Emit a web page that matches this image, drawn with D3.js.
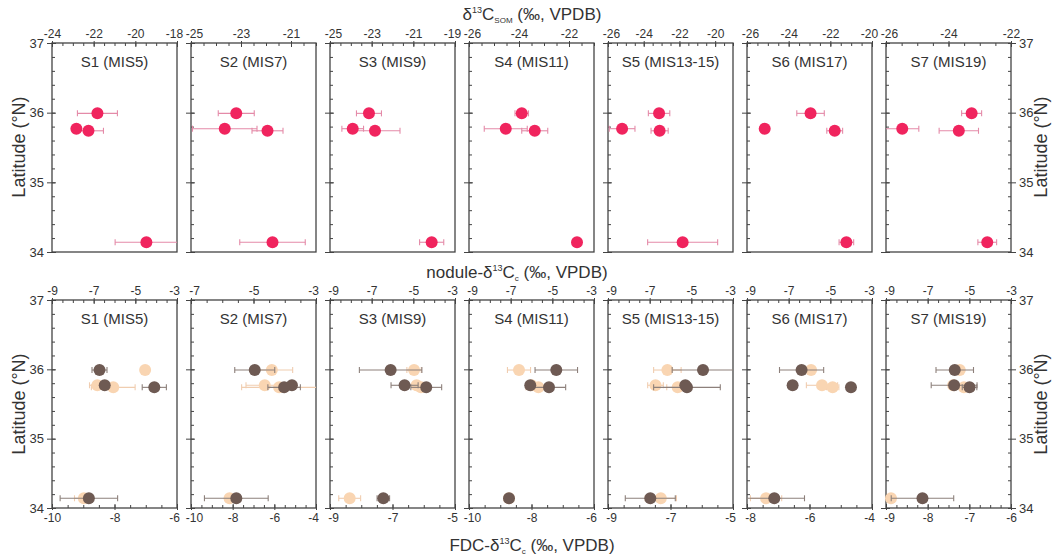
<!DOCTYPE html>
<html>
<head>
<meta charset="utf-8">
<script src="https://cdn.jsdelivr.net/npm/d3@7"></script>
<style>
  html, body { margin: 0; padding: 0; background: #ffffff; }
  svg { display: block; }
  text { font-family: "Liberation Sans", Arial, sans-serif; fill: #333; }
</style>
</head>
<body>
<svg id="chart" width="1056" height="559"></svg>
<script>
// ---------- DATA ----------
const panelTitles = ["S1 (MIS5)", "S2 (MIS7)", "S3 (MIS9)", "S4 (MIS11)", "S5 (MIS13-15)", "S6 (MIS17)", "S7 (MIS19)"];
const siteLatitudes = [35.99, 35.77, 35.74, 34.14];
const latTicks = [34, 35, 36, 37];

// Top row: d13C SOM
const somDomains = [[-24, -18], [-25, -20], [-25, -19], [-26, -21], [-26, -19], [-26, -20], [-26, -22]];
const somTicks = [[-24, -22, -20, -18], [-25, -23, -21], [-25, -23, -21, -19], [-26, -24, -22], [-26, -24, -22, -20], [-26, -24, -22, -20], [-26, -24, -22]];
const somValues = [
  [-21.82, -22.83, -22.25, -19.47],
  [-23.19, -23.65, -21.94, -21.74],
  [-23.13, -23.91, -22.84, -20.12],
  [-23.89, -24.53, -23.37, -21.68],
  [-23.14, -25.21, -23.11, -21.82],
  [-22.95, -25.15, -21.79, -21.23],
  [-23.26, -25.48, -23.67, -22.76]
];
const somErrors = [
  [0.96, 0, 0.72, 1.5],
  [0.72, 1.29, 0.62, 1.31],
  [0.6, 0.52, 1.2, 0.58],
  [0.27, 0.86, 0.52, 0],
  [0.6, 0.72, 0.48, 1.96],
  [0.66, 0, 0.38, 0.35],
  [0.32, 0.53, 0.63, 0.3]
];

// Bottom row: nodule d13Cc (top axis, dark) and FDC d13Cc (bottom axis, light)
const noduleDomains = [[-9, -3], [-7, -3], [-9, -3], [-9, -3], [-9, -3], [-9, -3], [-9, -3]];
const noduleTicks = [[-9, -7, -5, -3], [-7, -5, -3], [-9, -7, -5, -3], [-9, -7, -5, -3], [-9, -7, -5, -3], [-9, -7, -5, -3], [-9, -7, -5, -3]];
const noduleValues = [
  [-6.72, -6.47, -4.09, -7.23],
  [-4.96, -3.77, -4.02, -5.55],
  [-6.09, -5.42, -4.38, -6.44],
  [-4.81, -6.06, -5.16, -7.08],
  [-4.44, -5.29, -5.21, -6.97],
  [-6.38, -6.81, -4.01, -7.69],
  [-5.70, -5.73, -4.99, -7.25]
];
const noduleErrors = [
  [0.36, 0, 0.58, 1.38],
  [0.64, 0, 0.52, 1.02],
  [1.5, 0.65, 0.74, 0.3],
  [1.02, 0, 0.8, 0],
  [1.48, 0, 1.6, 1.2],
  [1.06, 0, 0, 1.45],
  [0.9, 1.1, 0.35, 1.5]
];
const fdcDomains = [[-10, -6], [-10, -4], [-9, -5], [-10, -6], [-9, -5], [-8, -4], [-9, -6]];
const fdcTicks = [[-10, -8, -6], [-10, -8, -6, -4], [-9, -7, -5], [-10, -8, -6], [-9, -7, -5], [-8, -6, -4], [-9, -8, -7, -6]];
const fdcValues = [
  [-7.02, -8.55, -8.04, -8.98],
  [-6.12, -6.46, -5.77, -8.15],
  [-6.31, -6.23, -6.09, -8.37],
  [-8.40, -8.00, -7.78, -8.72],
  [-7.10, -7.48, -6.77, -7.31],
  [-5.95, -5.60, -5.26, -7.39],
  [-7.23, -7.39, -7.13, -8.88]
];
const fdcErrors = [
  [0, 0.25, 0.7, 0.3],
  [1.0, 0.9, 1.8, 0],
  [0.23, 0, 0.2, 0.35],
  [0.37, 0, 0.4, 0],
  [0.44, 0.25, 0.35, 0.5],
  [0, 0.5, 0.2, 0.5],
  [0, 0, 0.25, 0.1]
];

// ---------- LAYOUT ----------
const svg = d3.select("#chart");
const panelW = 125;
const panelLeft = d3.scaleLinear().domain([0, 6]).range([52, 886]);
const rows = [{ top: 43, bottom: 252 }, { top: 300, bottom: 508 }];
const frameColor = "#444";
const pink = "#f0245e", pinkErr = "#e48aa8";
const dark = "#6e5a53", darkErr = "#8d807b";
const light = "#f9d5b2", lightErr = "#f0cdb0";
const R = 6;

function range(a, b, step) {
  const out = [];
  for (let v = a; v <= b + 1e-9; v += step) out.push(+v.toFixed(4));
  return out;
}
function fmt(d) { return String(d); }
function styleAxis(g, fontSize) {
  g.select(".domain").remove();
  g.selectAll(".tick line").attr("stroke", frameColor).attr("stroke-width", 1);
  g.selectAll(".tick text").attr("fill", "#333").style("font-size", fontSize + "px")
    .style("font-family", '"Liberation Sans", Arial, sans-serif');
}
// labels sitting on a shared panel boundary are nudged so neighbours just touch
function nudgeEdges(g, dom, i) {
  g.selectAll(".tick text").each(function (d) {
    if (i < 6 && d === dom[1]) d3.select(this).attr("dx", -3);
    if (i > 0 && d === dom[0]) d3.select(this).attr("dx", 3);
  });
}

function drawPanel(i, row) {
  const x0 = panelLeft(i), x1 = x0 + panelW;
  const { top, bottom } = rows[row];
  const y = d3.scaleLinear().domain([34, 37]).range([bottom, top]);
  const g = svg.append("g");

  // left y-axis: minor inward + major crossing
  g.append("g").attr("transform", `translate(${x0},0)`)
    .call(d3.axisLeft(y).tickValues(range(34, 37, 0.2)).tickSize(-3).tickFormat(""))
    .call(a => styleAxis(a, 13));
  g.append("g").attr("transform", `translate(${x0},0)`)
    .call(d3.axisLeft(y).tickValues(latTicks).tickSizeInner(-4).tickSizeOuter(0).tickFormat(""))
    .call(a => styleAxis(a, 13));
  g.append("g").attr("transform", `translate(${x0},0)`)
    .call(d3.axisLeft(y).tickValues(latTicks).tickSize(5).tickPadding(3).tickFormat(i === 0 ? fmt : ""))
    .call(a => styleAxis(a, 13));
  if (i === 6) {
    g.append("g").attr("transform", `translate(${x1},0)`)
      .call(d3.axisRight(y).tickValues(range(34, 37, 0.2)).tickSize(-3).tickFormat(""))
      .call(a => styleAxis(a, 13));
    g.append("g").attr("transform", `translate(${x1},0)`)
      .call(d3.axisRight(y).tickValues(latTicks).tickSize(5).tickPadding(3).tickFormat(fmt))
      .call(a => styleAxis(a, 13));
  }

  // top x-axis
  const topDom = row === 0 ? somDomains[i] : noduleDomains[i];
  const topTk = row === 0 ? somTicks[i] : noduleTicks[i];
  const xt = d3.scaleLinear().domain(topDom).range([x0, x1]);
  g.append("g").attr("transform", `translate(0,${top})`)
    .call(d3.axisTop(xt).tickValues(range(topDom[0], topDom[1], 0.5)).tickSize(-3).tickFormat(""))
    .call(a => styleAxis(a, 12));
  g.append("g").attr("transform", `translate(0,${top})`)
    .call(d3.axisTop(xt).tickValues(topTk).tickSize(-4).tickFormat(""))
    .call(a => styleAxis(a, 12));
  g.append("g").attr("transform", `translate(0,${top})`)
    .call(d3.axisTop(xt).tickValues(topTk).tickSize(2).tickPadding(3).tickFormat(fmt))
    .call(a => styleAxis(a, 12))
    .call(a => nudgeEdges(a, topDom, i));

  // bottom x-axis (only bottom row)
  let xb = null;
  if (row === 1) {
    const bDom = fdcDomains[i];
    xb = d3.scaleLinear().domain(bDom).range([x0, x1]);
    g.append("g").attr("transform", `translate(0,${bottom})`)
      .call(d3.axisBottom(xb).tickValues(range(bDom[0], bDom[1], bDom[1] - bDom[0] <= 3 ? 0.25 : 0.5)).tickSize(-3).tickFormat(""))
      .call(a => styleAxis(a, 12));
    g.append("g").attr("transform", `translate(0,${bottom})`)
      .call(d3.axisBottom(xb).tickValues(fdcTicks[i]).tickSize(-4).tickFormat(""))
      .call(a => styleAxis(a, 12));
    g.append("g").attr("transform", `translate(0,${bottom})`)
      .call(d3.axisBottom(xb).tickValues(fdcTicks[i]).tickSize(2).tickPadding(3).tickFormat(fmt))
      .call(a => styleAxis(a, 12))
      .call(a => nudgeEdges(a, bDom, i));
  }

  // frame
  g.append("rect").attr("x", x0).attr("y", top).attr("width", panelW).attr("height", bottom - top)
    .attr("fill", "none").attr("stroke", frameColor).attr("stroke-width", 1.3);

  // title
  g.append("text").attr("x", x0 + panelW / 2).attr("y", top + 24).attr("text-anchor", "middle")
    .style("font-size", "15px").attr("fill", "#444").text(panelTitles[i]);

  function series(vals, errs, sx, col, ecol) {
    const pts = vals.map((v, k) => ({ v, e: errs[k], lat: siteLatitudes[k] }));
    const eg = g.append("g").attr("stroke", ecol).attr("stroke-width", 1.1).attr("fill", "none");
    pts.filter(p => p.e > 0).forEach(p => {
      const cy = y(p.lat);
      const xa = Math.max(x0, sx(p.v - p.e)), xbb = Math.min(x1, sx(p.v + p.e));
      eg.append("line").attr("x1", xa).attr("x2", xbb).attr("y1", cy).attr("y2", cy);
      if (sx(p.v - p.e) >= x0) eg.append("line").attr("x1", xa).attr("x2", xa).attr("y1", cy - 3).attr("y2", cy + 3);
      if (sx(p.v + p.e) <= x1) eg.append("line").attr("x1", xbb).attr("x2", xbb).attr("y1", cy - 3).attr("y2", cy + 3);
    });
    g.append("g").selectAll("circle").data(pts).join("circle")
      .attr("cx", p => sx(p.v)).attr("cy", p => y(p.lat)).attr("r", R).attr("fill", col);
  }

  if (row === 0) {
    series(somValues[i], somErrors[i], xt, pink, pinkErr);
  } else {
    series(fdcValues[i], fdcErrors[i], xb, light, lightErr);
    series(noduleValues[i], noduleErrors[i], xt, dark, darkErr);
  }
}

for (let r = 0; r < 2; r++) for (let i = 0; i < 7; i++) drawPanel(i, r);

// ---------- LABELS ----------
function latLabel(x, y, rot) {
  svg.append("text").attr("transform", `translate(${x},${y}) rotate(${rot})`)
    .attr("text-anchor", "middle").attr("dominant-baseline", "central")
    .style("font-size", "18px").attr("fill", "#333").text("Latitude (°N)");
}
latLabel(19, 147, -90);
latLabel(19, 404, -90);
latLabel(1041, 147, -90);
latLabel(1041, 404, -90);

function isoLabel(x, y, prefix, sub) {
  const t = svg.append("text").attr("x", x).attr("y", y).attr("text-anchor", "middle")
    .style("font-size", "17px").attr("fill", "#333");
  if (prefix) t.append("tspan").text(prefix);
  t.append("tspan").text("δ");
  t.append("tspan").attr("dy", -7).style("font-size", "9px").text("13");
  t.append("tspan").attr("dy", 7).text("C");
  t.append("tspan").attr("dy", 3).style("font-size", "8px").text(sub);
  t.append("tspan").attr("dy", -3).text(" (‰, VPDB)");
}
isoLabel(532, 20, "", "SOM");
isoLabel(517, 278, "nodule-", "c");
isoLabel(532, 551, "FDC-", "c");
</script>
</body>
</html>
